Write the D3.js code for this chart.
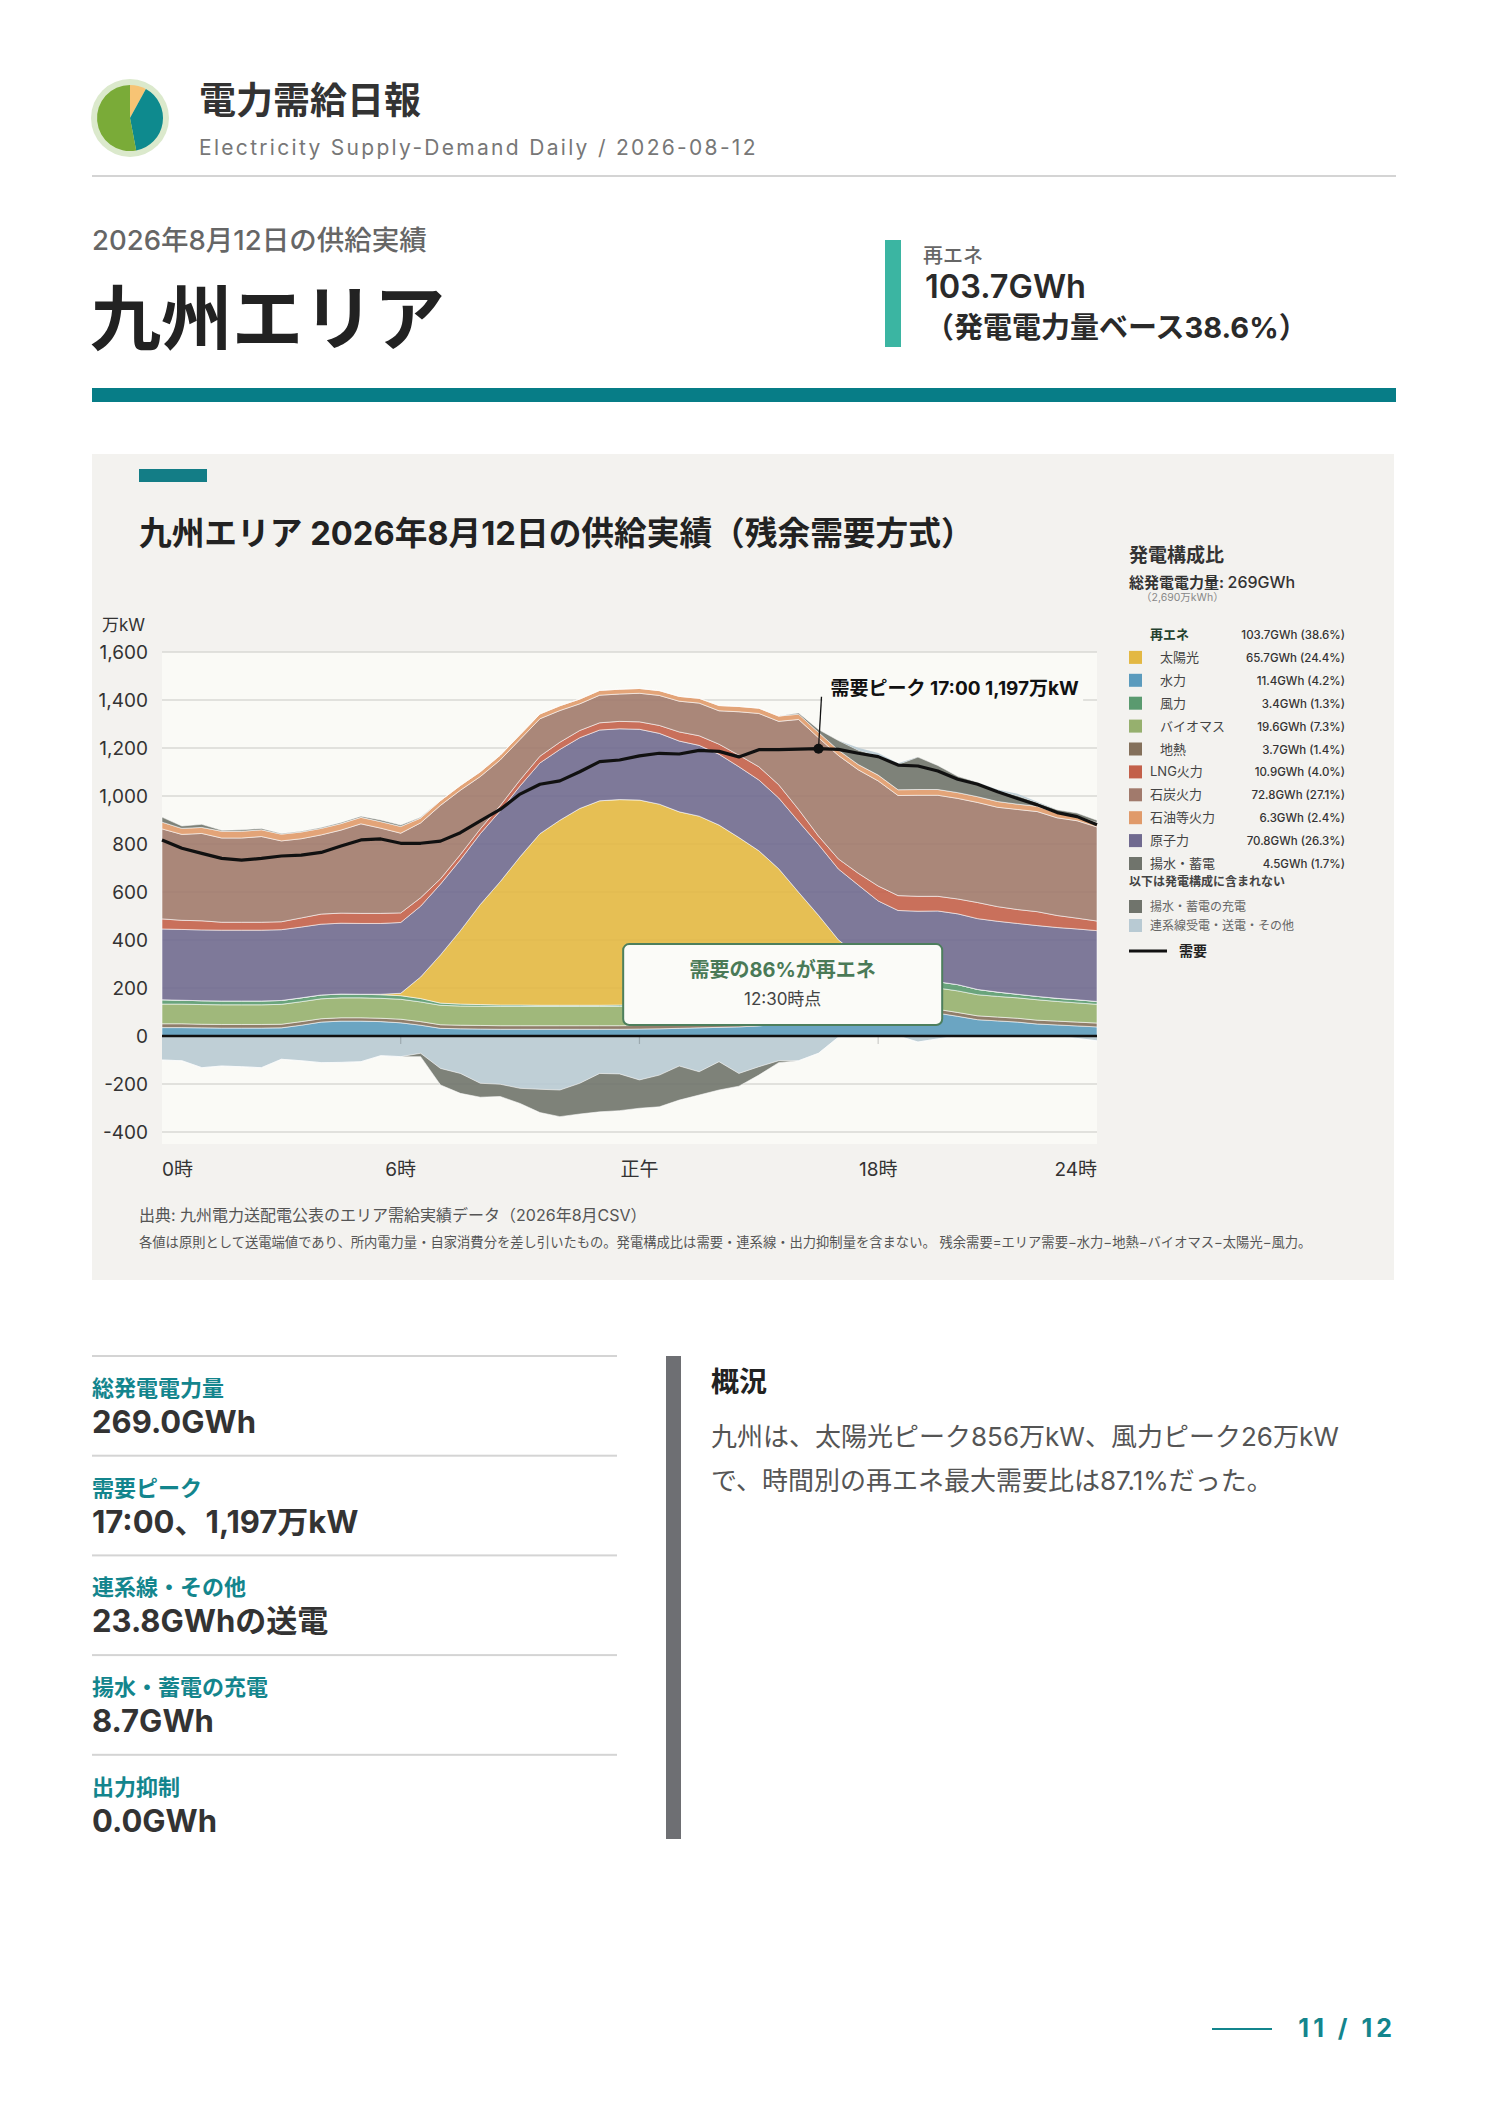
<!DOCTYPE html>
<html lang="ja">
<head>
<meta charset="utf-8">
<title>電力需給日報 九州エリア</title>
<script src="https://cdn.jsdelivr.net/npm/d3@7"></script>
<style>
  body { margin: 0; background: #fff; }
  svg text { font-family: "Inter", "Noto Sans CJK JP", sans-serif; }
</style>
</head>
<body>
<div id="page"></div>
<script>
// ---- data (万kW, 30-minute slots 0:00 - 23:30) ----
var slots = ["0:00","0:30","1:00","1:30","2:00","2:30","3:00","3:30","4:00","4:30","5:00","5:30",
             "6:00","6:30","7:00","7:30","8:00","8:30","9:00","9:30","10:00","10:30","11:00","11:30",
             "12:00","12:30","13:00","13:30","14:00","14:30","15:00","15:30","16:00","16:30","17:00","17:30",
             "18:00","18:30","19:00","19:30","20:00","20:30","21:00","21:30","22:00","22:30","23:00","23:30"];

var hydro = [35,35,34,33,33,33,34,45,58,62,62,60, 55,45,32,30,29,28,28,28,28,28,28,28,
             29,30,32,34,36,38,42,50,58,65,78,88, 94,96,96,95,82,68,63,58,50,46,42,38];
var geothermal = [16,16,15,15,15,15,15,15,14,14,14,14, 15,15,15,15,15,15,15,15,15,15,15,15,
                  15,15,15,15,15,16,16,16,16,16,16,16, 16,16,16,16,16,16,16,16,16,16,16,16];
var biomass = [82,82,82,82,82,82,83,83,83,83,83,83, 83,82,81,80,80,80,80,80,80,80,80,80,
               80,80,80,80,80,80,80,81,82,84,85,86, 88,88,88,89,90,88,86,85,85,82,80,78];
var wind = [18,16,16,16,16,16,16,16,16,16,15,15, 15,14,9,8,7,6,6,5,5,5,5,6,
            6,6,7,7,8,8,9,10,12,12,14,16, 20,23,25,26,26,22,18,15,14,13,13,12];
var solar = [0,0,0,0,0,0,0,0,0,0,0,2, 10,90,201,306,417,514,618,715,771,820,852,856,
             853,835,800,780,740,685,625,540,431,326,208,128, 50,5,0,0,0,0,0,0,0,0,0,0];
var nuclear = [295,295,295,295,295,295,295,295,295,295,295,295, 295,295,295,295,295,295,295,295,295,295,295,295,
               295,295,295,295,295,295,295,295,295,295,295,295, 295,295,295,295,295,295,295,295,295,295,295,295];
var lng = [42,38,38,33,33,33,33,38,42,42,42,42, 40,35,22,22,20,22,25,28,30,30,30,31,
           31,33,38,40,42,48,55,55,50,35,42,49, 62,62,62,61,62,67,61,58,58,50,45,40];
var coal = [375,358,364,351,351,357,337,330,330,346,373,355, 332,312,306,268,218,190,169,156,132,111,115,114,
            119,125,128,136,139,181,222,264,375,410,431,431, 438,417,421,421,419,417,414,417,417,407,406,392];
var oil = [28,25,25,28,28,28,28,28,27,27,27,27, 28,20,20,20,20,20,20,20,20,20,20,20,
           20,20,20,20,22,22,22,22,22,22,22,22, 24,24,24,24,24,24,24,22,22,20,18,18];
var pumped = [21,10,13,4,6,6,3,3,4,5,5,7, 6,3,0,0,0,0,0,0,0,0,0,0,
              0,0,0,0,0,0,0,0,5,12,40,60, 80,105,135,100,68,60,45,35,15,14,14,10];
var interconnection = [-100,-103,-132,-125,-128,-132,-97,-103,-111,-110,-107,-82, -86,-72,-135,-156,-197,-201,-218,-222,-225,-197,-156,-158,
                       -183,-163,-125,-149,-107,-156,-128,-103,-103,-72,-5,10, 12,5,-25,-12,0,0,5,8,4,0,-10,-20];
var pumpCharge = [0,0,0,0,0,0,0,0,0,0,0,0, 0,-14,-69,-83,-58,-51,-63,-97,-111,-128,-160,-153,
                  -118,-132,-142,-97,-118,-53,-35,-8,0,0,0,0, 0,0,0,0,0,0,0,0,0,0,0,0];
var demand = [817,782,761,740,733,740,750,754,765,792,817,821, 803,803,812,847,896,944,1008,1049,1063,1101,1143,1150,
              1167,1178,1175,1190,1186,1163,1193,1193,1195,1197,1194,1178, 1164,1129,1125,1104,1070,1049,1018,990,963,931,914,880];

var yTicks = [-400,-200,0,200,400,600,800,1000,1200,1400,1600];
var xTickHours = [0,6,12,18,24];
var xTickLabels = ["0時","6時","正午","18時","24時"];

// legend (発電構成比)
var legendNames = ["太陽光","水力","風力","バイオマス","地熱","LNG火力","石炭火力","石油等火力","原子力","揚水・蓄電"];
var legendKeys = ["solar","hydro","wind","biomass","geothermal","lng","coal","oil","nuclear","pumped"];
var legendGWh = [65.7,11.4,3.4,19.6,3.7,10.9,72.8,6.3,70.8,4.5];
var legendShare = [24.4,4.2,1.3,7.3,1.4,4.0,27.1,2.4,26.3,1.7];
var legendRenewable = [true,true,true,true,true,false,false,false,false,false];

// KPI block
var kpiLabels = ["総発電電力量","需要ピーク","連系線・その他","揚水・蓄電の充電","出力抑制"];
var kpiValues = ["269.0GWh","17:00、1,197万kW","23.8GWhの送電","8.7GWh","0.0GWh"];
var summaryLines = ["九州は、太陽光ピーク856万kW、風力ピーク26万kW","で、時間別の再エネ最大需要比は87.1%だった。"];

var logoShares = [0.08, 0.39, 0.53];
var logoColors = ["#f7c474", "#0e8a8e", "#7aab38"];

function program() {

    var W = 1488, H = 2105;
    var svg = d3.select("#page").append("svg")
        .attr("width", W)
        .attr("height", H);

    function txt(g, x, y, s, size, color, weight, anchor) {
        return g.append("text")
            .attr("x", x).attr("y", y)
            .attr("font-size", size)
            .attr("fill", color)
            .attr("font-weight", weight || 400)
            .attr("text-anchor", anchor || "start")
            .text(s);
    }

    //step 1: page header
    var logo = svg.append("g").attr("transform", "translate(130,118)");
    logo.append("circle").attr("r", 39).attr("fill", "#dbe9cc");
    logo.selectAll("path")
        .data(d3.pie().sort(null)(logoShares))
        .join("path")
        .attr("d", d3.arc().innerRadius(0).outerRadius(33))
        .attr("fill", function(d, i) { return logoColors[i]; });

    txt(svg, 199, 114, "電力需給日報", 37, "#333", 700);
    txt(svg, 199, 155, "Electricity Supply-Demand Daily / 2026-08-12", 21, "#777", 400)
        .attr("letter-spacing", 2.3);
    svg.append("rect").attr("x", 92).attr("y", 175).attr("width", 1304).attr("height", 2).attr("fill", "#d4d4d4");

    txt(svg, 92, 250, "2026年8月12日の供給実績", 27.5, "#666", 500);
    txt(svg, 90, 344, "九州エリア", 71, "#222", 700);

    svg.append("rect").attr("x", 885).attr("y", 240).attr("width", 16).attr("height", 107).attr("fill", "#3bb5a2");
    txt(svg, 923, 263, "再エネ", 20, "#666", 500);
    txt(svg, 925, 298, "103.7GWh", 32.5, "#2a2a2a", 600);
    txt(svg, 925, 338, "（発電電力量ベース38.6%）", 29, "#2a2a2a", 700);

    svg.append("rect").attr("x", 92).attr("y", 388).attr("width", 1304).attr("height", 14).attr("fill", "#077d87");

    //step 2: chart panel
    svg.append("rect").attr("x", 92).attr("y", 454).attr("width", 1302).attr("height", 826).attr("fill", "#f3f2ef");
    svg.append("rect").attr("x", 139).attr("y", 469).attr("width", 68).attr("height", 13).attr("fill", "#137d86");
    txt(svg, 139, 545, "九州エリア 2026年8月12日の供給実績（残余需要方式）", 32.7, "#222", 700);

    var plot = { left: 162, right: 1097, top: 652, bottom: 1144 };

    var x = d3.scaleLinear()
        .domain([0, 23.5])
        .range([plot.left, plot.right]);

    var y = d3.scaleLinear()
        .domain([-450, 1600])
        .range([plot.bottom, plot.top]);

    var hourOf = function(i) { return i / 2; };

    svg.append("rect")
        .attr("x", plot.left).attr("y", plot.top)
        .attr("width", plot.right - plot.left).attr("height", plot.bottom - plot.top)
        .attr("fill", "#fafaf6");

    var fmt = d3.format(",");
    var yFmt = function(d) { return d < 0 ? "-" + fmt(-d) : fmt(d); };

    svg.append("g")
        .selectAll("line")
        .data(yTicks)
        .join("line")
        .attr("x1", plot.left).attr("x2", plot.right)
        .attr("y1", function(d) { return y(d); })
        .attr("y2", function(d) { return y(d); })
        .attr("stroke", "#d9d9d4")
        .attr("stroke-width", 1.5);

    svg.append("g")
        .selectAll("text")
        .data(yTicks)
        .join("text")
        .attr("x", 148)
        .attr("y", function(d) { return y(d) + 7; })
        .attr("text-anchor", "end")
        .attr("font-size", 19)
        .attr("fill", "#333")
        .text(yFmt);
    txt(svg, 102, 631, "万kW", 17, "#333", 400);

    //step 3: stacked areas (supply above zero, outflows below)
    var colors = {
        hydro: "#5b9bbd", geothermal: "#84705b", biomass: "#96b06e", wind: "#5a9a6f",
        solar: "#e3b843", nuclear: "#706a8f", lng: "#c3604a", coal: "#a17a6c",
        oil: "#e09a6a", pumped: "#70746c", icIn: "#b8cad3", icOut: "#b8cad3", pumpCharge: "#70746c"
    };
    var upKeys = ["hydro","geothermal","biomass","wind","solar","nuclear","lng","coal","oil","pumped","icIn"];
    var downKeys = ["icOut","pumpCharge"];

    var table = slots.map(function(s, i) {
        return {
            i: i,
            hydro: hydro[i], geothermal: geothermal[i], biomass: biomass[i], wind: wind[i],
            solar: solar[i], nuclear: nuclear[i], lng: lng[i], coal: coal[i], oil: oil[i],
            pumped: pumped[i],
            icIn: Math.max(interconnection[i], 0),
            icOut: Math.min(interconnection[i], 0),
            pumpCharge: pumpCharge[i]
        };
    });

    var upStack = d3.stack().keys(upKeys)(table);
    var downStack = d3.stack().keys(downKeys)(table);

    var area = d3.area()
        .x(function(d) { return x(hourOf(d.data.i)); })
        .y0(function(d) { return y(d[0]); })
        .y1(function(d) { return y(d[1]); });

    svg.append("g")
        .selectAll("path")
        .data(upStack.concat(downStack))
        .join("path")
        .attr("d", area)
        .attr("fill", function(d) { return colors[d.key]; })
        .attr("fill-opacity", 0.9)
        .attr("stroke", function(d) { return (d.key === "icIn" || d.key === "icOut") ? "none" : "#ffffff"; })
        .attr("stroke-opacity", 0.55)
        .attr("stroke-width", 1);

    // x axis: small ticks on the zero line, labels below
    svg.append("g")
        .selectAll("line")
        .data([6, 12, 18])
        .join("line")
        .attr("x1", function(d) { return x(d); })
        .attr("x2", function(d) { return x(d); })
        .attr("y1", y(0)).attr("y2", y(0) + 8)
        .attr("stroke", "#000").attr("stroke-opacity", 0.18).attr("stroke-width", 1.2);

    svg.append("g")
        .selectAll("text")
        .data(xTickHours)
        .join("text")
        .attr("x", function(d) { return d === 24 ? plot.right : (d === 0 ? plot.left : x(d)); })
        .attr("y", 1176)
        .attr("text-anchor", function(d) { return d === 0 ? "start" : (d === 24 ? "end" : "middle"); })
        .attr("font-size", 19)
        .attr("fill", "#333")
        .text(function(d, i) { return xTickLabels[i]; });

    svg.append("line")
        .attr("x1", plot.left).attr("x2", plot.right)
        .attr("y1", y(0)).attr("y2", y(0))
        .attr("stroke", "#111").attr("stroke-width", 2.4);

    //step 4: demand line + peak
    var line = d3.line()
        .x(function(d, i) { return x(hourOf(i)); })
        .y(function(d) { return y(d); });

    svg.append("path")
        .datum(demand)
        .attr("d", line)
        .attr("fill", "none")
        .attr("stroke", "#111")
        .attr("stroke-width", 3.2)
        .attr("stroke-linejoin", "round");

    var pi = d3.maxIndex(demand);
    var px = x(hourOf(pi)), py = y(demand[pi]);
    var peakLabel = svg.append("g");
    var peakText = txt(peakLabel, px + 12, py - 54, "需要ピーク 17:00 " + fmt(demand[pi]) + "万kW", 19, "#111", 700);
    var bb = peakText.node().getBBox();
    peakLabel.insert("rect", "text")
        .attr("x", bb.x - 8).attr("y", bb.y - 4)
        .attr("width", bb.width + 12).attr("height", bb.height + 8)
        .attr("fill", "#fafaf6");
    svg.append("line")
        .attr("x1", px).attr("y1", py)
        .attr("x2", px + 3).attr("y2", py - 52)
        .attr("stroke", "#111").attr("stroke-width", 1.3);
    svg.append("circle").attr("cx", px).attr("cy", py).attr("r", 5).attr("fill", "#111");

    // renewable share callout
    var bx = x(15.6), bw = 319, bh = 81, byTop = y(383);
    var call = svg.append("g");
    call.append("rect")
        .attr("x", bx - bw / 2).attr("y", byTop)
        .attr("width", bw).attr("height", bh)
        .attr("rx", 6)
        .attr("fill", "#fbfbf8")
        .attr("stroke", "#4d7f5d").attr("stroke-width", 2);
    txt(call, bx, byTop + 33, "需要の86%が再エネ", 20, "#4a7a57", 700, "middle");
    txt(call, bx, byTop + 61, "12:30時点", 17, "#444", 400, "middle");

    //step 5: legend
    var lg = svg.append("g");
    txt(lg, 1129, 562, "発電構成比", 19, "#333", 700);
    var tot = txt(lg, 1129, 588, "", 15, "#333", 700);
    tot.append("tspan").text("総発電電力量: ");
    tot.append("tspan").attr("font-size", 16).attr("font-weight", 500).text("269GWh");
    txt(lg, 1141, 601, "（2,690万kWh）", 10.5, "#888", 400);

    var rowY = 639, rowH = 22.9, valRight = 1345;
    txt(lg, 1150, rowY, "再エネ", 13, "#24412f", 700);
    txt(lg, valRight, rowY, "103.7GWh (38.6%)", 11.5, "#333", 500, "end");

    legendNames.forEach(function(name, i) {
        var yy = rowY + rowH * (i + 1);
        lg.append("rect")
            .attr("x", 1129).attr("y", yy - 11)
            .attr("width", 13).attr("height", 13)
            .attr("fill", colors[legendKeys[i]]);
        txt(lg, legendRenewable[i] ? 1160 : 1150, yy, name, 13, "#444", 400);
        txt(lg, valRight, yy, legendGWh[i].toFixed(1) + "GWh (" + legendShare[i].toFixed(1) + "%)", 11.5, "#333", 500, "end");
    });

    txt(lg, 1129, 886, "以下は発電構成に含まれない", 12, "#444", 700);
    lg.append("rect").attr("x", 1129).attr("y", 900).attr("width", 13).attr("height", 13).attr("fill", colors.pumpCharge);
    txt(lg, 1150, 911, "揚水・蓄電の充電", 12, "#666", 400);
    lg.append("rect").attr("x", 1129).attr("y", 919).attr("width", 13).attr("height", 13).attr("fill", colors.icOut);
    txt(lg, 1150, 930, "連系線受電・送電・その他", 12, "#666", 400);
    lg.append("line").attr("x1", 1129).attr("x2", 1167).attr("y1", 951).attr("y2", 951)
        .attr("stroke", "#111").attr("stroke-width", 3);
    txt(lg, 1179, 956, "需要", 14, "#222", 700);

    //step 6: source notes
    txt(svg, 139, 1221, "出典: 九州電力送配電公表のエリア需給実績データ（2026年8月CSV）", 16, "#555", 400);
    txt(svg, 139, 1247, "各値は原則として送電端値であり、所内電力量・自家消費分を差し引いたもの。発電構成比は需要・連系線・出力抑制量を含まない。 残余需要=エリア需要−水力−地熱−バイオマス−太陽光−風力。", 13.3, "#555", 400);

    //step 7: KPI list and summary
    var kpi = svg.append("g");
    kpiLabels.forEach(function(label, i) {
        var top = 1356 + 99.7 * i;
        kpi.append("rect").attr("x", 92).attr("y", top - 1).attr("width", 525).attr("height", 2).attr("fill", "#d4d4d4");
        txt(kpi, 92, top + 40, label, 22, "#13858d", 700);
        txt(kpi, 92, top + 77, kpiValues[i], 31, "#333", 700);
    });

    svg.append("rect").attr("x", 666).attr("y", 1356).attr("width", 15).attr("height", 483).attr("fill", "#6e6f73");
    txt(svg, 711, 1392, "概況", 28, "#222", 700);
    summaryLines.forEach(function(s, i) {
        txt(svg, 711, 1446 + 44 * i, s, 26, "#555", 400);
    });

    //step 8: page number
    svg.append("rect").attr("x", 1212).attr("y", 2028).attr("width", 60).attr("height", 2).attr("fill", "#13858d");
    txt(svg, 1396, 2037, "11 / 12", 25, "#13858d", 700, "end").attr("letter-spacing", 4);
}

program();
</script>
</body>
</html>
